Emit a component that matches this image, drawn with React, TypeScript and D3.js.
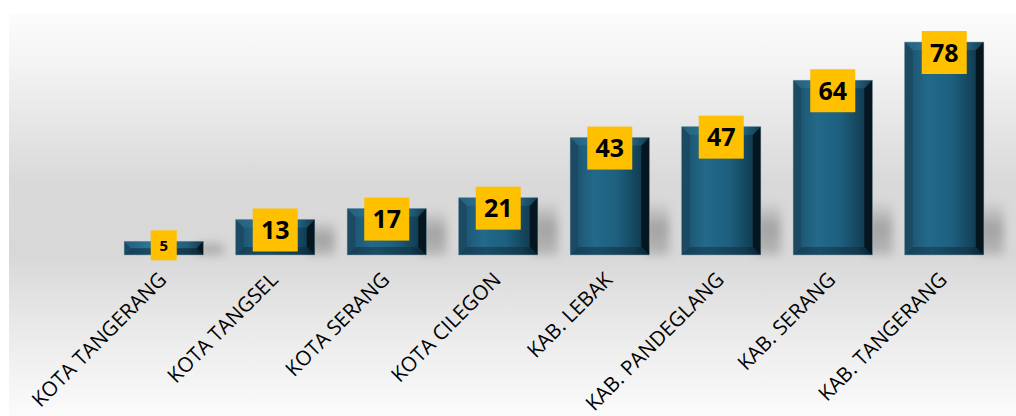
import React from "react";
import * as d3 from "d3";

const categories = [
  "KOTA TANGERANG",
  "KOTA TANGSEL",
  "KOTA SERANG",
  "KOTA CILEGON",
  "KAB. LEBAK",
  "KAB. PANDEGLANG",
  "KAB. SERANG",
  "KAB. TANGERANG",
];
const values = [5, 13, 17, 21, 43, 47, 64, 78];

const W = 1016;
const H = 416;
const baseY = 255;

export default function App() {
  const x = d3
    .scaleBand<string>()
    .domain(categories)
    .range([108, 1000])
    .paddingInner(0.29)
    .paddingOuter(0.145);
  const y = d3.scaleLinear().domain([0, 78]).range([baseY, 42]);
  const bw = x.bandwidth();

  return (
    <svg
      width={W}
      height={H}
      style={{ position: "absolute", left: 0, top: 0 }}
      xmlns="http://www.w3.org/2000/svg"
    >
      <defs>
        <linearGradient id="bg" x1="0" y1="0" x2="0" y2="1">
          <stop offset="0" stopColor="#fcfcfc" />
          <stop offset="0.12" stopColor="#f4f4f4" />
          <stop offset="0.42" stopColor="#d9d9d9" />
          <stop offset="0.6" stopColor="#d8d8d8" />
          <stop offset="0.8" stopColor="#ebebeb" />
          <stop offset="1" stopColor="#fbfbfb" />
        </linearGradient>
        <linearGradient id="face" x1="0" y1="0" x2="1" y2="0">
          <stop offset="0" stopColor="#1a4f6a" />
          <stop offset="0.3" stopColor="#23698a" />
          <stop offset="0.6" stopColor="#1d5f7e" />
          <stop offset="0.88" stopColor="#123f55" />
          <stop offset="1" stopColor="#07202d" />
        </linearGradient>
        <linearGradient id="topb" x1="0" y1="0" x2="1" y2="0">
          <stop offset="0" stopColor="#235f7c" />
          <stop offset="0.35" stopColor="#2e7697" />
          <stop offset="0.8" stopColor="#215f7c" />
          <stop offset="1" stopColor="#123a4e" />
        </linearGradient>
        <linearGradient id="botb" x1="0" y1="0" x2="1" y2="0">
          <stop offset="0" stopColor="#163f55" />
          <stop offset="0.35" stopColor="#1b4c65" />
          <stop offset="0.8" stopColor="#143a4e" />
          <stop offset="1" stopColor="#0a2231" />
        </linearGradient>
        <linearGradient id="shadow" x1="0" y1="0" x2="0" y2="1">
          <stop offset="0" stopColor="#000" stopOpacity="0" />
          <stop offset="0.5" stopColor="#000" stopOpacity="0.25" />
          <stop offset="1" stopColor="#000" stopOpacity="0.15" />
        </linearGradient>
        <filter id="blur" x="-50%" y="-50%" width="200%" height="200%">
          <feGaussianBlur stdDeviation="5" />
        </filter>
      </defs>
      <rect x={0} y={0} width={W} height={H} fill="#ffffff" />
      <rect x={9} y={13} width={W - 9} height={H - 13} fill="url(#bg)" />

      {categories.map((c, i) => {
        const v = values[i];
        const x0 = x(c)!;
        const top = y(v);
        const h = Math.min(baseY - top, 55);
        return (
          <rect
            key={"s" + c}
            x={x0 + bw - 6}
            y={baseY - h}
            width={26}
            height={h}
            fill="url(#shadow)"
            filter="url(#blur)"
          />
        );
      })}

      {categories.map((c, i) => {
        const v = values[i];
        const x0 = x(c)!;
        const x1 = x0 + bw;
        const top = y(v);
        const bot = baseY;
        const b = Math.min(8, (bot - top) / 2);
        const p = (pts: number[][]) => pts.map((q) => q.join(",")).join(" ");
        return (
          <g key={c}>
            <rect x={x0} y={top} width={bw} height={bot - top} fill="url(#face)" />
            <polygon
              points={p([[x0, top], [x0 + b, top + b], [x0 + b, bot - b], [x0, bot]])}
              fill="#1b4a62"
            />
            <polygon
              points={p([[x1, top], [x1 - b, top + b], [x1 - b, bot - b], [x1, bot]])}
              fill="#05161f"
            />
            <polygon
              points={p([[x0, top], [x1, top], [x1 - b, top + b], [x0 + b, top + b]])}
              fill="url(#topb)"
            />
            <polygon
              points={p([[x0, bot], [x1, bot], [x1 - b, bot - b], [x0 + b, bot - b]])}
              fill="url(#botb)"
            />
            <rect
              x={x0}
              y={top}
              width={bw}
              height={bot - top}
              fill="none"
              stroke="#8aa6b8"
              strokeWidth={0.7}
              strokeOpacity={0.7}
            />
          </g>
        );
      })}

      {categories.map((c, i) => {
        const v = values[i];
        const cx = x(c)! + bw / 2;
        const top = y(v);
        const small = v < 10;
        const bwid = small ? 26 : 45;
        const bh = small ? 30 : 43;
        const cy = top + bh / 2 - 11;
        return (
          <g key={"l" + c}>
            <rect x={cx - bwid / 2} y={cy - bh / 2} width={bwid} height={bh} fill="#ffc000" />
            <text
              x={cx}
              y={cy}
              dy="0.36em"
              textAnchor="middle"
              fontFamily="'Open Sans', sans-serif"
              fontWeight="bold"
              fontSize={small ? 15 : 25}
              fill="#000"
            >
              {v}
            </text>
          </g>
        );
      })}

      {categories.map((c) => {
        const cx = x(c)! + bw / 2;
        const ax = cx + 4;
        const ay = 281;
        return (
          <text
            key={"t" + c}
            x={ax}
            y={ay}
            transform={`rotate(-45 ${ax} ${ay})`}
            textAnchor="end"
            fontFamily="'Open Sans', sans-serif"
            fontSize={20.5}
            fill="#000"
          >
            {c}
          </text>
        );
      })}
    </svg>
  );
}
